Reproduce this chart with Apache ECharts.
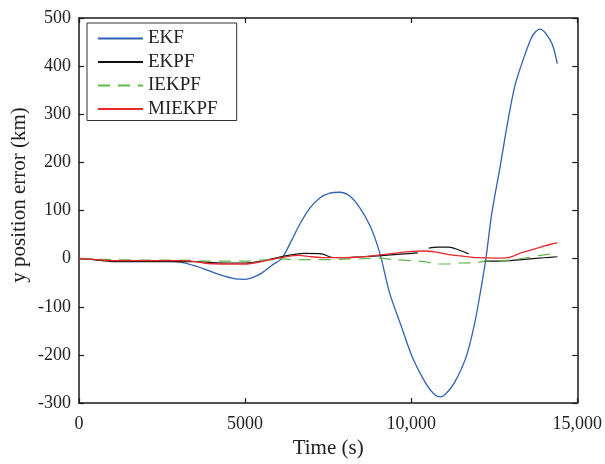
<!DOCTYPE html>
<html>
<head>
<meta charset="utf-8">
<script src="https://cdn.jsdelivr.net/npm/echarts@6/dist/echarts.min.js"></script>
<style>html,body{margin:0;padding:0;background:#fff;overflow:hidden;}#c{width:605px;height:464px;}</style>
</head>
<body>
<div id="c"></div>
<script>
var seriesNames = ['EKF', 'EKPF', 'IEKPF', 'MIEKPF'];
var xTicks = [0, 5000, 10000, 15000];
var xTickLabels = ['0', '5000', '10,000', '15,000'];
var yTickLabels = ['-300', '-200', '-100', '0', '100', '200', '300', '400', '500'];

var ekfTime = [0, 500, 1000, 1500, 2000, 2500, 2900, 3200, 3500, 3800, 4100, 4400, 4700, 5000, 5200, 5500, 5800, 6100, 6400, 6650, 6950, 7250, 7550, 7850, 8150, 8450, 8750, 8950, 9100, 9350, 9700, 10050, 10450, 10700, 10880, 11050, 11300, 11650, 11900, 12080, 12250, 12420, 12680, 12930, 13130, 13380, 13600, 13750, 13880, 14050, 14250, 14400];
var ekfValue = [0, -2, -4, -5, -5, -5, -6, -9, -15, -22, -30, -37, -42, -43, -40, -30, -14, 0, 38, 72, 105, 126, 136, 138, 130, 106, 70, 35, 0, -71, -140, -207, -260, -282, -287, -280, -258, -205, -138, -71, 0, 91, 192, 293, 361, 415, 456, 472, 477, 468, 445, 405];

var ekpfTime = [0, 300, 700, 1000, 2000, 3000, 3500, 4000, 4500, 5000, 5500, 6000, 6500, 6800, 7300, 7600, 8000, 8500, 9000, 9600, 10000, 10200, 10350, 10530, 10800, 11130, 11400, 11730, 11950, 12200, 12600, 13000, 13500, 14000, 14400];
var ekpfValue = [0, -1, -4, -6, -6, -6, -6, -8, -9, -9, -5, 3, 9, 11, 10, 3, 2, 4, 6, 9, 11, 12, null, 22, 24, 24, 19, 10, null, -5, -5, -4, -1, 2, 4];

var iekpfTime = [0, 500, 1000, 2000, 3000, 4000, 5000, 5500, 6000, 6500, 7000, 7500, 8000, 8500, 9000, 9500, 10000, 10400, 10800, 11100, 11500, 12000, 12300, 12700, 13000, 13300, 13700, 14000, 14400];
var iekpfValue = [0, -1, -2, -3, -3, -5, -5, -3, 0, -2, -2, -2, -1, 0, 1, -2, -4, -6, -11, -11, -9, -8, -4, -4, -3, 0, 5, 8, 11];

var miekpfTime = [0, 300, 700, 1000, 2000, 3000, 3500, 3900, 4500, 5000, 5500, 6000, 6300, 6600, 7000, 7400, 7900, 8300, 8700, 9200, 9600, 10000, 10400, 10700, 11200, 11600, 12000, 12500, 12900, 13300, 13600, 13900, 14200, 14400];
var miekpfValue = [0, -1, -3, -4, -4, -4, -6, -10, -11, -11, -6, 1, 5, 7, 4, 2, 2, 3, 5, 9, 12, 15, 16, 14, 8, 5, 2, 1, 2, 12, 18, 24, 30, 33];

var colors = ['#2f62b0', '#111111', '#5cb848', '#e8282a'];

function pairs(t, v) {
  return t.map(function (x, i) { return [x, v[i]]; });
}

var serif = 'Liberation Serif, Times New Roman, serif';
var chart = echarts.init(document.getElementById('c'), null, {renderer: 'canvas', width: 605, height: 464});

function xFmt(v) { var i = xTicks.indexOf(v); return i >= 0 ? xTickLabels[i] : ''; }
function yFmt(v) { var i = Math.round((v + 300) / 100); return yTickLabels[i] !== undefined ? yTickLabels[i] : ''; }

var axisLine = {show: true, onZero: false, lineStyle: {color: '#1a1a1a', width: 1.5}};
var axisTick = {show: true, inside: true, length: 5, lineStyle: {color: '#1a1a1a', width: 1.2}};

chart.setOption({
  animation: false,
  backgroundColor: '#fff',
  color: colors,
  grid: {left: 79, right: 26, top: 18, bottom: 51, containLabel: false},
  legend: {
    orient: 'vertical', left: 87, top: 23,
    padding: [6, 19, 2, 10],
    itemWidth: 45, itemHeight: 14, itemGap: 4.5,
    borderColor: '#333', borderWidth: 1, backgroundColor: '#fff',
    itemStyle: {opacity: 0},
    textStyle: {fontFamily: serif, fontSize: 19, color: '#222', lineHeight: 18},
    data: seriesNames
  },
  graphic: [{
    type: 'text', x: 19, y: 195, rotation: Math.PI / 2,
    style: {text: 'y position error (km)', fontFamily: serif, fontSize: 21, fill: '#222', align: 'center', verticalAlign: 'middle'}
  }],
  xAxis: [{
    type: 'value', min: 0, max: 15000, interval: 5000,
    name: 'Time (s)', nameLocation: 'middle', nameGap: 28,
    nameTextStyle: {fontFamily: serif, fontSize: 21, color: '#222'},
    axisLine: axisLine, axisTick: axisTick, splitLine: {show: false},
    axisLabel: {fontFamily: serif, fontSize: 18, color: '#222', margin: 12, formatter: xFmt}
  }, {
    type: 'value', position: 'top', min: 0, max: 15000, interval: 5000,
    axisLine: axisLine, axisTick: axisTick, splitLine: {show: false}, axisLabel: {show: false}
  }],
  yAxis: [{
    type: 'value', min: -300, max: 500, interval: 100,
    axisLine: axisLine, axisTick: axisTick, splitLine: {show: false},
    axisLabel: {fontFamily: serif, fontSize: 18, color: '#222', margin: 8, formatter: yFmt}
  }, {
    type: 'value', position: 'right', min: -300, max: 500, interval: 100,
    axisLine: axisLine, axisTick: axisTick, splitLine: {show: false}, axisLabel: {show: false}
  }],
  series: [
    {name: 'EKF', type: 'line', data: pairs(ekfTime, ekfValue), showSymbol: false, symbol: 'none', smooth: 0.3, lineStyle: {width: 1.3, color: colors[0]}},
    {name: 'EKPF', type: 'line', data: pairs(ekpfTime, ekpfValue), showSymbol: false, symbol: 'none', smooth: 0.3, connectNulls: false, lineStyle: {width: 1.2, color: colors[1]}},
    {name: 'IEKPF', type: 'line', data: pairs(iekpfTime, iekpfValue), showSymbol: false, symbol: 'none', smooth: 0.3, lineStyle: {width: 1.2, color: colors[2], type: [12, 8]}},
    {name: 'MIEKPF', type: 'line', data: pairs(miekpfTime, miekpfValue), showSymbol: false, symbol: 'none', smooth: 0.3, lineStyle: {width: 1.3, color: colors[3]}}
  ]
});
</script>
</body>
</html>
